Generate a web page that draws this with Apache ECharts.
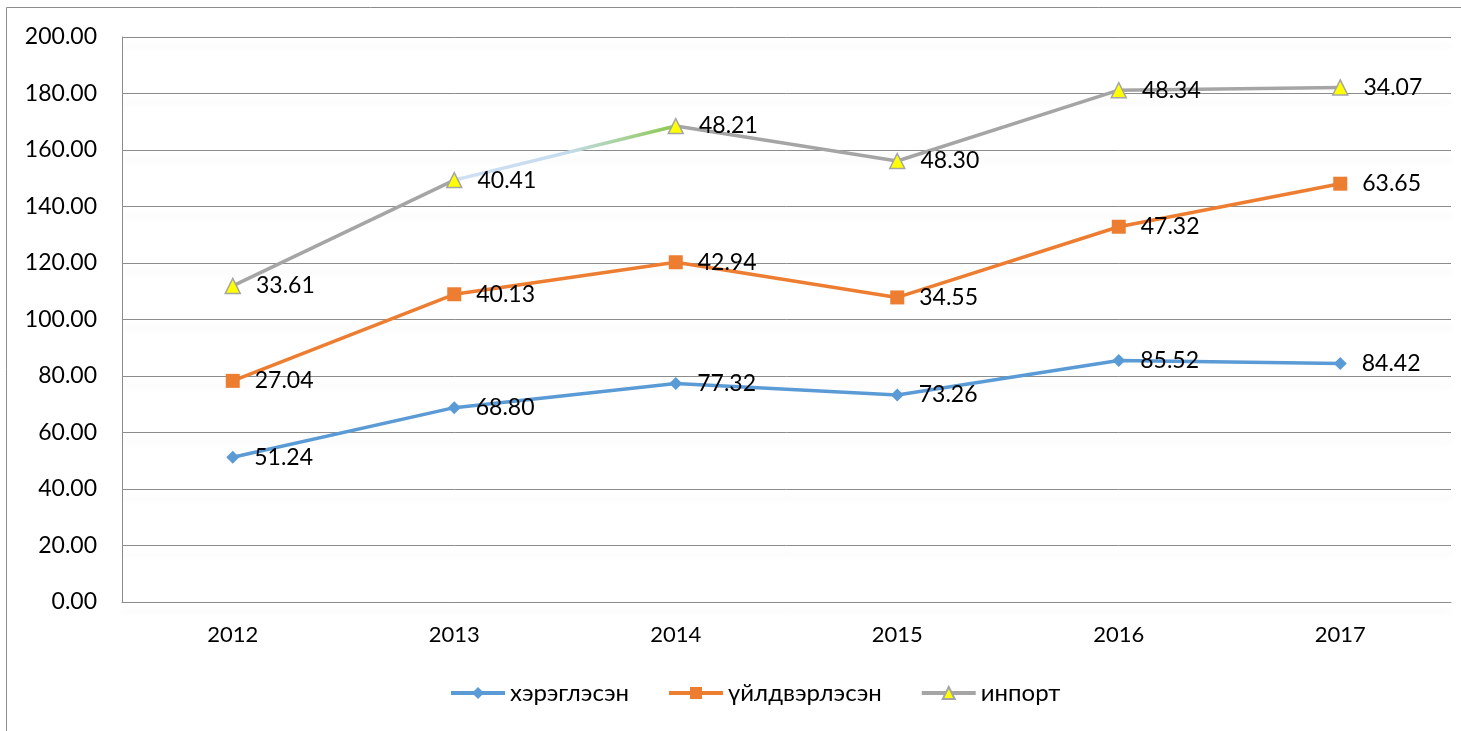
<!DOCTYPE html>
<html>
<head>
<meta charset="utf-8">
<script src="https://cdn.jsdelivr.net/npm/echarts@6/dist/echarts.min.js"></script>
<style>
html, body { margin: 0; padding: 0; background: #fff; }
#chart { width: 1461px; height: 731px; }
</style>
</head>
<body>
<div id="chart"></div>
<script>
// years on x axis
var years = ['2012', '2013', '2014', '2015', '2016', '2017'];
// own values of each series (stacked in the chart)
var used = [51.24, 68.80, 77.32, 73.26, 85.52, 84.42];
var produced = [27.04, 40.13, 42.94, 34.55, 47.32, 63.65];
var imported = [33.61, 40.41, 48.21, 48.30, 48.34, 34.07];
var seriesNames = ['хэрэглэсэн', 'үйлдвэрлэсэн', 'инпорт'];
var colors = ['#5b9bd5', '#ed7d31', '#a5a5a5'];

var FONT = 'Lato, "Noto Sans", sans-serif';
var chart = echarts.init(document.getElementById('chart'));

function labelOpt() {
	return {
		show: true,
		position: 'right',
		distance: 15,
		fontFamily: FONT,
		fontSize: 23,
		color: '#000',
		formatter: function(p) { return p.value.toFixed(2); }
	};
}

var legendData = seriesNames.map(function(n, i) {
	return { name: n, lineStyle: { color: colors[i], width: 4 } };
});

chart.setOption({
	animation: false,
	graphic: [{
		type: 'rect',
		shape: { x: 6.5, y: 7.5, width: 1500, height: 800 },
		style: { fill: 'none', stroke: '#8c8c8c', lineWidth: 1 },
		silent: true
	}],
	grid: { left: 122, top: 37, right: 10, bottom: 129 },
	legend: {
		bottom: 21,
		left: 444,
		itemWidth: 54,
		itemHeight: 15,
		itemGap: 38,
		textStyle: { fontFamily: FONT, fontSize: 24, color: '#000' },
		data: legendData
	},
	xAxis: {
		type: 'category',
		data: years,
		boundaryGap: true,
		axisLine: { show: true, lineStyle: { color: '#8c8c8c', width: 1 } },
		axisTick: { show: false },
		axisLabel: { fontFamily: FONT, fontSize: 22, color: '#000', margin: 22 }
	},
	yAxis: {
		type: 'value',
		min: 0,
		max: 200,
		interval: 20,
		axisLine: { show: true, lineStyle: { color: '#8c8c8c', width: 1 } },
		axisTick: { show: false },
		axisLabel: {
			fontFamily: FONT, fontSize: 23, color: '#000', margin: 25,
			formatter: function(v) { return v.toFixed(2); }
		},
		splitLine: {
			show: true,
			lineStyle: {
				color: '#8c8c8c', width: 1,
				shadowColor: 'rgba(0,0,0,0.1)', shadowBlur: 6, shadowOffsetY: 9
			}
		}
	},
	series: [{
		name: seriesNames[0],
		type: 'line',
		stack: 'total',
		data: used,
		symbol: 'diamond',
		symbolSize: 13,
		itemStyle: { color: colors[0] },
		lineStyle: { color: colors[0], width: 3.5 },
		label: labelOpt()
	}, {
		name: seriesNames[1],
		type: 'line',
		stack: 'total',
		data: produced,
		symbol: 'rect',
		symbolSize: 14,
		itemStyle: { color: colors[1] },
		lineStyle: { color: colors[1], width: 3.5 },
		label: labelOpt()
	}, {
		name: seriesNames[2],
		type: 'line',
		stack: 'total',
		data: imported,
		symbol: 'triangle',
		symbolSize: 15,
		itemStyle: { color: '#ffff00', borderColor: colors[2], borderWidth: 1.5 },
		lineStyle: {
			width: 3.5,
			color: new echarts.graphic.LinearGradient(0, 0, 1, 0, [
				{ offset: 0, color: colors[2] },
				{ offset: 0.2, color: colors[2] },
				{ offset: 0.2, color: '#cfe0f4' },
				{ offset: 0.3, color: '#c6dcef' },
				{ offset: 0.4, color: '#8cc84e' },
				{ offset: 0.4, color: colors[2] },
				{ offset: 1, color: colors[2] }
			])
		},
		label: labelOpt()
	}]
});
</script>
</body>
</html>
